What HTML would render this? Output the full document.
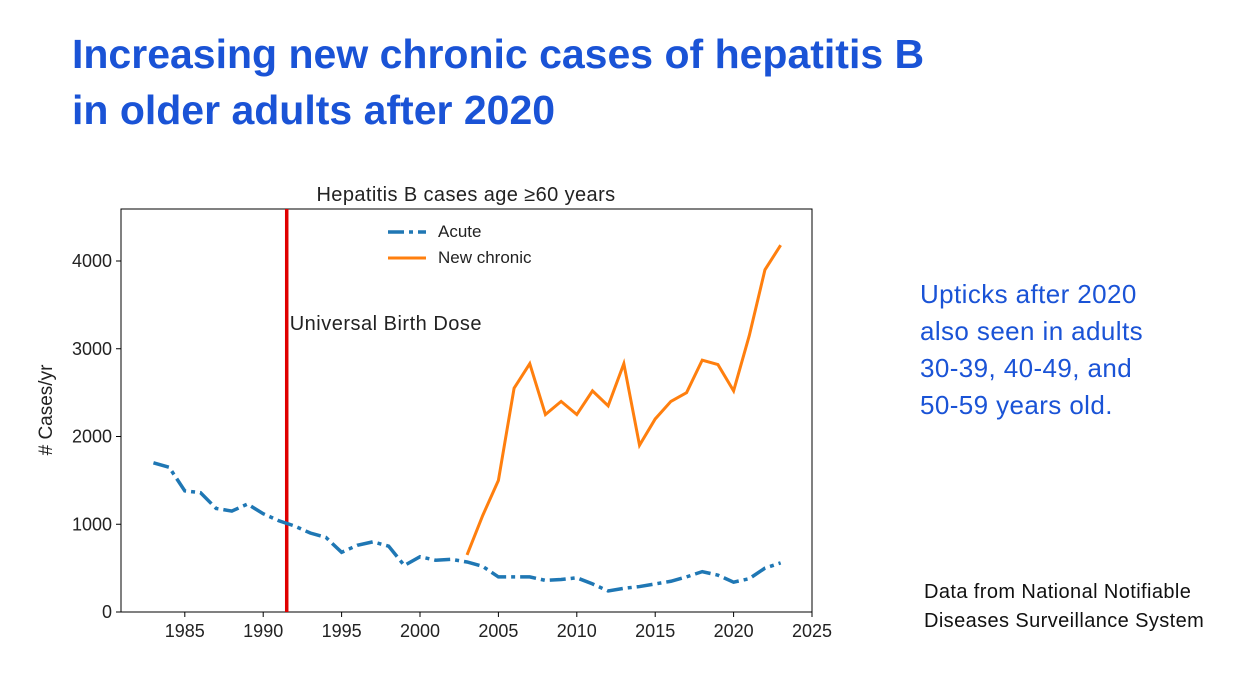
<!DOCTYPE html>
<html><head><meta charset="utf-8"><style>
body{margin:0;width:1237px;height:677px;background:#fff;overflow:hidden;font-family:"Liberation Sans",sans-serif;position:relative}
.title{position:absolute;left:72px;top:26px;color:#1a53d6;font-weight:bold;font-size:41px;line-height:56px}
.side{position:absolute;left:920px;top:276px;color:#1a53d6;font-size:26px;line-height:37px;letter-spacing:0.4px}
.src{position:absolute;left:924px;top:578px;color:#111;font-size:20px;line-height:29px;letter-spacing:0.4px}
svg{position:absolute;left:0;top:0}
</style></head><body>
<div class="title">Increasing new chronic cases of hepatitis B<br>in older adults after 2020</div>
<div class="side">Upticks after 2020<br>also seen in adults<br>30-39, 40-49, and<br>50-59 years old.</div>
<div class="src">Data from National Notifiable<br>Diseases Surveillance System</div>
<svg id="chart" width="1237" height="677"></svg>
<script>
const acuteYears=[1983,1984,1985,1986,1987,1988,1989,1990,1991,1992,1993,1994,1995,1996,1997,1998,1999,2000,2001,2002,2003,2004,2005,2006,2007,2008,2009,2010,2011,2012,2013,2014,2015,2016,2017,2018,2019,2020,2021,2022,2023];
const acuteValues=[1700,1650,1380,1360,1180,1150,1230,1120,1040,980,900,850,680,760,800,750,530,630,590,600,570,520,400,400,400,360,370,390,320,240,270,290,320,350,400,460,420,340,380,500,560];
const chronicYears=[2003,2004,2005,2006,2007,2008,2009,2010,2011,2012,2013,2014,2015,2016,2017,2018,2019,2020,2021,2022,2023];
const chronicValues=[650,1100,1500,2550,2830,2250,2400,2250,2520,2350,2830,1900,2200,2400,2500,2870,2820,2520,3150,3900,4180];
const xTicks=[1985,1990,1995,2000,2005,2010,2015,2020,2025];
const yTicks=[0,1000,2000,3000,4000];
const birthDoseYear=1991.5;
const NS="http://www.w3.org/2000/svg";
const svg=document.getElementById('chart');
const X0=121,X1=812,Y0=612,Y1=209;
const x=v=>812+(v-2025)*15.68;
const y=v=>612-v*0.08775;
function mk(t,a){const e=document.createElementNS(NS,t);for(const k in a)e.setAttribute(k,a[k]);svg.appendChild(e);return e;}
const frame=mk('rect',{x:X0,y:Y1,width:X1-X0,height:Y0-Y1,fill:'none',stroke:'#000','stroke-width':1});


xTicks.forEach(t=>{
  const l=mk('line',{x1:x(t),x2:x(t),y1:Y0,y2:Y0+5,stroke:'#000'});
  
  
  const tx=mk('text',{x:x(t),y:Y0+25,'text-anchor':'middle','font-size':18,fill:'#222'});tx.textContent=t;
  
  
});
yTicks.forEach(t=>{
  const l=mk('line',{x1:X0-5,x2:X0,y1:y(t),y2:y(t),stroke:'#000'});
  
  
  const tx=mk('text',{x:X0-9,y:y(t)+6,'text-anchor':'end','font-size':18,fill:'#222'});tx.textContent=t;
  
  
});
const yt=mk('text',{x:52,y:410,'text-anchor':'middle','font-size':19,fill:'#222',transform:'rotate(-90 52 410)'});yt.textContent='# Cases/yr';


const ct=mk('text',{x:466,y:201,'text-anchor':'middle','font-size':20,fill:'#222','letter-spacing':0.4});ct.textContent='Hepatitis B cases age \u226560 years';


const red=mk('line',{x1:x(birthDoseYear),x2:x(birthDoseYear),y1:Y1,y2:Y0,stroke:'#e00000','stroke-width':3.5});


const rl=mk('text',{x:x(birthDoseYear)+3,y:330,'font-size':20,fill:'#222','letter-spacing':0.5});rl.textContent='Universal Birth Dose';


const pa=mk('polyline',{points:acuteYears.map((d,i)=>x(d)+','+y(acuteValues[i])).join(' '),fill:'none',stroke:'#1f77b4','stroke-width':3.5,'stroke-dasharray':'16 5 4 5'});


const pc=mk('polyline',{points:chronicYears.map((d,i)=>x(d)+','+y(chronicValues[i])).join(' '),fill:'none',stroke:'#ff7f0e','stroke-width':3});


const la=mk('line',{x1:388,x2:426,y1:232,y2:232,stroke:'#1f77b4','stroke-width':3.5,'stroke-dasharray':'16 5 4 5'});


const lat=mk('text',{x:438,y:237,'font-size':17,fill:'#222'});lat.textContent='Acute';


const lc=mk('line',{x1:388,x2:426,y1:258,y2:258,stroke:'#ff7f0e','stroke-width':3});


const lct=mk('text',{x:438,y:263,'font-size':17,fill:'#222'});lct.textContent='New chronic';


</script>
</body></html>
